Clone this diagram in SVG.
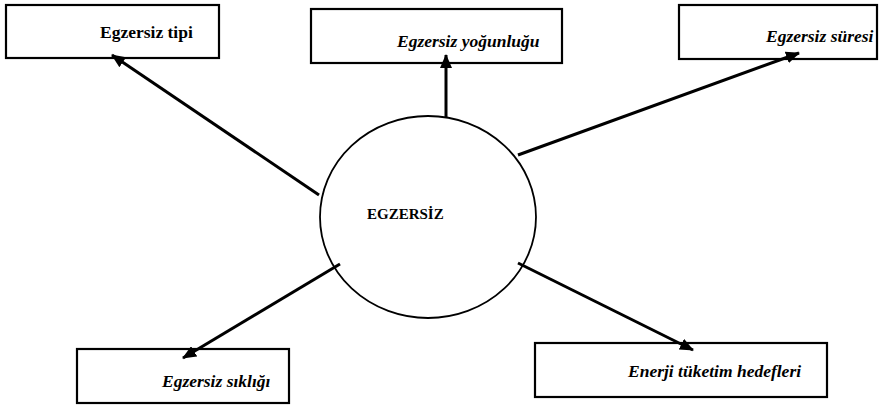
<svg xmlns="http://www.w3.org/2000/svg" width="885" height="405" viewBox="0 0 885 405">
<style>
.box{fill:#fff;stroke:#000;stroke-width:2.2}
.lbl{font-family:'Liberation Serif','Times New Roman',serif;font-weight:bold;font-size:17.5px;fill:#000}
.it{font-style:italic}
.conn{stroke:#000;stroke-width:3;fill:none;marker-end:url(#ah)}
</style>
<defs>
<marker id="ah" markerUnits="userSpaceOnUse" markerWidth="14" markerHeight="12" refX="13" refY="6" orient="auto">
<path d="M0,0 L14,6 L0,12 Z" fill="#000"/>
</marker>
</defs>
<rect width="885" height="405" fill="#fff"/>
<g id="n-tipi"><rect class="box" x="6" y="5" width="213" height="53"/><text class="lbl" x="100" y="38">Egzersiz tipi</text></g>
<g id="n-yogunlugu"><rect class="box" x="311" y="9" width="251" height="54"/><text class="lbl it" x="397" y="47">Egzersiz yoğunluğu</text></g>
<g id="n-suresi"><rect class="box" x="679" y="5" width="198" height="54"/><text class="lbl it" x="766" y="42">Egzersiz süresi</text></g>
<g id="n-center"><ellipse cx="428" cy="217" rx="108" ry="101" fill="#fff" stroke="#000" stroke-width="1.8"/><text class="lbl" x="367" y="219" style="font-size:15px">EGZERSİZ</text></g>
<g id="n-siklik"><rect class="box" x="77" y="349" width="212" height="54"/><text class="lbl it" x="162" y="387">Egzersiz sıklığı</text></g>
<g id="n-enerji"><rect class="box" x="535" y="343" width="292" height="54"/><text class="lbl it" x="628" y="377">Enerji tüketim hedefleri</text></g>
<g id="connectors">
<line class="conn" x1="319" y1="195" x2="112" y2="55"/>
<line class="conn" x1="446" y1="117" x2="446" y2="55"/>
<line class="conn" x1="518" y1="155" x2="799" y2="53"/>
<line class="conn" x1="340" y1="264" x2="183" y2="358"/>
<line class="conn" x1="518" y1="263" x2="693" y2="350"/>
</g>
</svg>
